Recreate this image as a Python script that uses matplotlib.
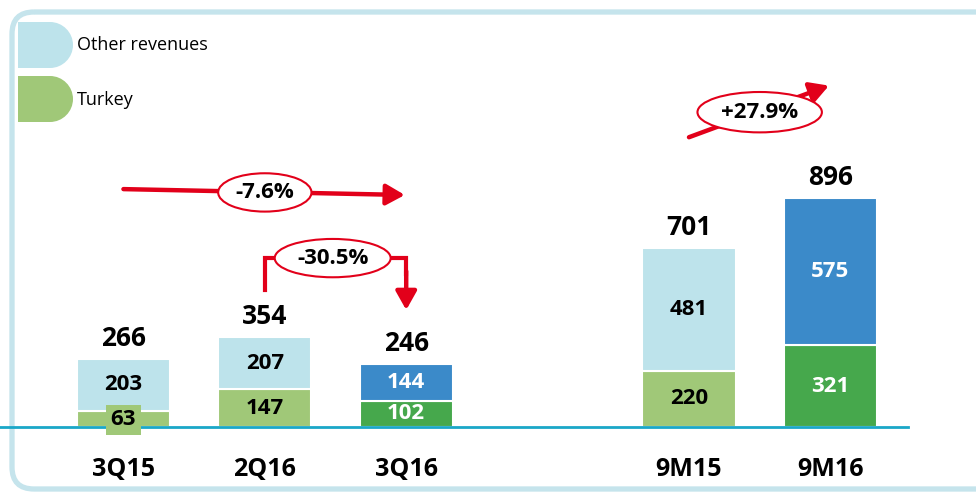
import matplotlib.pyplot as plt
from matplotlib.patches import Ellipse, FancyBboxPatch, PathPatch
from matplotlib.path import Path

plt.rcParams['font.family'] = ['Open Sans', 'DejaVu Sans']

categories = ['3Q15', '2Q16', '3Q16', '9M15', '9M16']
positions = [0, 1, 2, 4, 5]
turkey = [63, 147, 102, 220, 321]
other = [203, 207, 144, 481, 575]
totals = [266, 354, 246, 701, 896]
growth_labels = ['-7.6%', '-30.5%', '+27.9%']

light_blue = '#bde3eb'
light_green = '#a0c878'
dark_blue = '#3b8ac9'
dark_green = '#46a84c'
red = '#e2001a'
teal = '#1aa7c8'

other_colors = [light_blue, light_blue, dark_blue, light_blue, dark_blue]
turkey_colors = [light_green, light_green, dark_green, light_green, dark_green]
label_colors = ['black', 'black', 'white', 'black', 'white']

fig = plt.figure(figsize=(9.76, 4.95), dpi=100)

# frame + legend in pixel space
bg = fig.add_axes([0, 0, 1, 1])
bg.set_xlim(0, 976)
bg.set_ylim(495, 0)
bg.axis('off')
bg.add_patch(FancyBboxPatch((12, 12), 1000, 477, boxstyle='round,pad=0,rounding_size=22',
                            fc='none', ec='#c5e4ec', lw=3.8))


def d_shape(x0, y0, w, h, color):
    r = h / 2
    xs = x0 + w - r
    verts = [(x0, y0), (xs, y0),
             (xs + r * 0.55, y0), (x0 + w, y0 + r * 0.45), (x0 + w, y0 + r),
             (x0 + w, y0 + r * 1.55), (xs + r * 0.55, y0 + h), (xs, y0 + h),
             (x0, y0 + h), (x0, y0)]
    codes = [Path.MOVETO, Path.LINETO, Path.CURVE4, Path.CURVE4, Path.CURVE4,
             Path.CURVE4, Path.CURVE4, Path.CURVE4, Path.LINETO, Path.CLOSEPOLY]
    bg.add_patch(PathPatch(Path(verts, codes), fc=color, ec='none'))


d_shape(18, 22, 55, 46, light_blue)
d_shape(18, 76, 55, 46, light_green)
bg.text(77, 45, 'Other revenues', fontsize=13, va='center', ha='left')
bg.text(77, 100, 'Turkey', fontsize=13, va='center', ha='left')

ax = fig.add_axes([0, 0, 1, 1], facecolor='none')
ax.set_xlim(-0.873, 6.03)
ax.set_ylim(-266, 1671)
ax.axis('off')

w = 0.66
ax.bar(positions, turkey, width=w, color=turkey_colors, edgecolor='white', lw=1.5, zorder=2)
ax.bar(positions, other, bottom=turkey, width=w, color=other_colors, edgecolor='white', lw=1.5, zorder=2)
ax.plot([-0.9, 5.55], [0, 0], color=teal, lw=2, zorder=3)

for i, p in enumerate(positions):
    c = label_colors[i]
    ax.text(p, turkey[i] + other[i] / 2, str(other[i]), ha='center', va='center',
            fontsize=16, fontweight='bold', color=c, zorder=4)
    if i == 0:
        ax.text(p, 28, str(turkey[i]), ha='center', va='center', fontsize=16, fontweight='bold',
                color=c, zorder=4,
                bbox=dict(boxstyle='square,pad=0.2', fc=light_green, ec='none'))
    else:
        ax.text(p, turkey[i] / 2, str(turkey[i]), ha='center', va='center',
                fontsize=16, fontweight='bold', color=c, zorder=4)
    ax.annotate(str(totals[i]), (p, totals[i]), xytext=(0, 5), textcoords='offset points',
                ha='center', va='bottom', fontsize=19, fontweight='bold')
    ax.text(p, -165, categories[i], ha='center', va='center', fontsize=18, fontweight='bold')

arrow = dict(arrowstyle='-|>,head_length=0.8,head_width=0.45', color=red, lw=3.2,
             shrinkA=0, shrinkB=0, mutation_scale=14)
ell = dict(fc='white', ec=red, lw=1.5, zorder=6)
gfont = dict(ha='center', va='center', fontsize=16, fontweight='bold', zorder=7)

# -7.6%
ax.annotate('', xy=(1.99, 908), xytext=(0, 931), arrowprops=arrow, zorder=5)
ax.add_patch(Ellipse((1.0, 918), 0.66, 150, **ell))
ax.text(1.0, 918, growth_labels[0], **gfont)

# -30.5%
ax.plot([1, 1, 2, 2], [536, 661, 661, 600], color=red, lw=3, zorder=5, solid_joinstyle='miter')
ax.annotate('', xy=(2, 458), xytext=(2, 610), arrowprops=arrow, zorder=5)
ax.add_patch(Ellipse((1.48, 661), 0.82, 150, **ell))
ax.text(1.48, 661, growth_labels[1], **gfont)

# +27.9%
ax.annotate('', xy=(4.99, 1336), xytext=(4.0, 1134), arrowprops=arrow, zorder=5)
ax.add_patch(Ellipse((4.5, 1232), 0.88, 158, **ell))
ax.text(4.5, 1232, growth_labels[2], **gfont)

fig.savefig('out.png', dpi=100)
